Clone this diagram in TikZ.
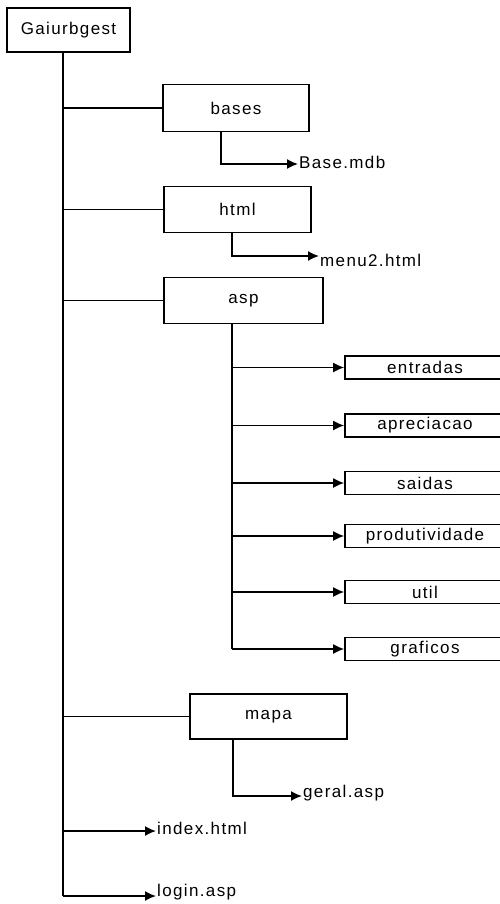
\documentclass[tikz,border=0pt]{standalone}
\usepackage{fontspec}
\setmainfont{Liberation Sans}[LetterSpace=8]
\usetikzlibrary{arrows.meta,calc}
\begin{document}
\begin{tikzpicture}[x=1pt,y=-1pt,
  every node/.style={font=\fontsize{17}{20}\selectfont},
  box/.style={draw,line width=1.6pt,inner sep=0pt,align=center},
  subbox/.style={box,minimum width=160pt,minimum height=23pt},
  lbl/.style={anchor=west,inner sep=1pt},
  conn/.style={line width=1.6pt},
  arr/.style={conn,-{Latex[length=11pt,width=10pt]}}]
\useasboundingbox (0,0) rectangle (500,904);
\fill[white] (0,0) rectangle (500,904);
% main boxes
\node[box,minimum width=123pt,minimum height=44pt] (root) at (68.5,30) {Gaiurbgest};
\node[box,minimum width=146pt,minimum height=47pt] (bases) at (236,108) {bases};
\node[box,minimum width=147pt,minimum height=46pt] (html) at (237.5,209.5) {html};
\node[box,minimum width=159pt,minimum height=46pt] (asp) at (243.5,300.5) {asp};
\node[box,minimum width=157pt,minimum height=45pt] (mapa) at (268.5,716.5) {mapa};
% sub boxes of asp
\node[subbox] (entradas) at (425,367.5) {entradas};
\node[subbox] (apreciacao) at (425,425.5) {apreciacao};
\node[subbox] (saidas) at (425,483) {saidas};
\node[subbox] (produtividade) at (425,536) {produtividade};
\node[subbox] (util) at (425,592) {util};
\node[subbox] (graficos) at (425,649) {graficos};
% leaf labels (text sits a little above its arrow)
\node[lbl] (basemdb) at (298,162) {Base.mdb};
\node[lbl] (menu) at (319,260) {menu2.html};
\node[lbl] (geral) at (302,793) {geral.asp};
\node[lbl] (index) at (156,828) {index.html};
\node[lbl] (login) at (156,892) {login.asp};
% trunk
\coordinate (tb) at (63,896);
\draw[conn] (root.south -| tb) -- (tb);
\draw[conn] (bases.west -| tb) -- (bases.west);
\draw[conn] (html.west -| tb) -- (html.west);
\draw[conn] (asp.west -| tb) -- (asp.west);
\draw[conn] (mapa.west -| tb) -- (mapa.west);
\coordinate (iy) at (0,831);
\draw[arr] (iy -| tb) -- (iy -| index.west);
\draw[arr] (tb) -- (tb -| login.west);
% bases -> Base.mdb
\coordinate (bx) at (221,0);
\coordinate (by) at (0,164);
\draw[arr] (bases.south -| bx) |- (by -| basemdb.west);
% html -> menu2.html
\coordinate (hx) at (232,0);
\coordinate (hy) at (0,256);
\draw[arr] (html.south -| hx) |- (hy -| menu.west);
% asp -> subfolders
\coordinate (ax) at (232,0);
\draw[conn] (asp.south -| ax) -- (graficos.west -| ax);
\foreach \n in {entradas,apreciacao,saidas,produtividade,util,graficos}
  \draw[arr] (\n.west -| ax) -- (\n.west);
% mapa -> geral.asp
\coordinate (mx) at (233,0);
\coordinate (my) at (0,796);
\draw[arr] (mapa.south -| mx) |- (my -| geral.west);
\end{tikzpicture}
\end{document}
